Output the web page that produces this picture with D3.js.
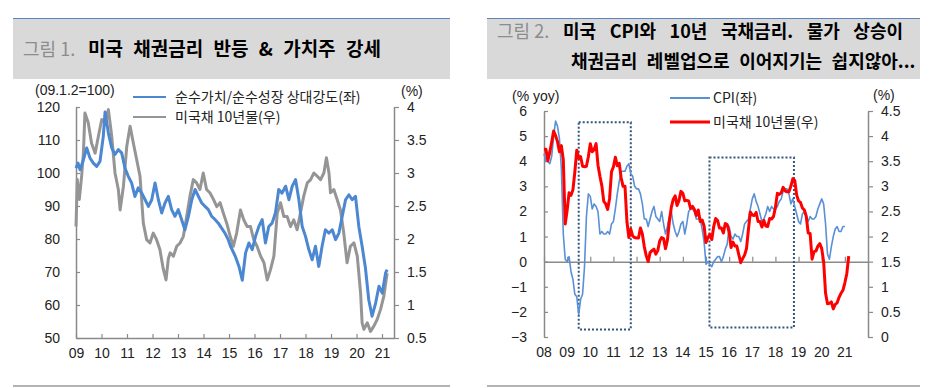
<!DOCTYPE html>
<html>
<head>
<meta charset="utf-8">
<script src="https://cdn.jsdelivr.net/npm/d3@7"></script>
<style>
  body { margin: 0; background: #fff; }
  svg text { font-family: "Liberation Sans", Arial, sans-serif; }
  .kr { font-family: "Noto Sans CJK KR", "Noto Sans", sans-serif; }
</style>
</head>
<body>
<div id="chart"></div>
<script>
// ---- data ----
// fig 1 : value/growth relative strength (left axis, 09.1.2=100), [year, value]
const relStrength = [
  [2009.00,101.5],[2009.08,103.0],[2009.16,101.0],[2009.29,104.0],[2009.42,107.6],[2009.55,104.5],[2009.68,103.0],
  [2009.81,102.0],[2009.94,103.5],[2010.07,111.1],[2010.14,118.5],[2010.27,112.1],[2010.40,107.6],
  [2010.53,105.6],[2010.66,107.1],[2010.79,106.1],[2010.92,101.5],[2011.05,99.0],[2011.18,97.0],
  [2011.31,92.9],[2011.44,95.5],[2011.58,93.9],[2011.71,91.9],[2011.84,89.9],[2011.97,91.9],
  [2012.10,97.0],[2012.23,91.9],[2012.36,87.9],[2012.49,90.9],[2012.62,92.9],[2012.75,88.9],
  [2012.88,86.9],[2013.01,88.9],[2013.14,85.9],[2013.27,82.8],[2013.41,86.9],[2013.54,91.9],
  [2013.67,95.0],[2013.80,92.9],[2013.93,90.9],[2014.06,89.9],[2014.19,88.9],[2014.32,86.9],
  [2014.45,85.9],[2014.58,84.8],[2014.71,83.3],[2014.84,81.8],[2014.97,79.8],[2015.06,77.8],
  [2015.25,74.7],[2015.39,71.7],[2015.52,67.5],[2015.65,75.8],[2015.78,78.8],[2015.91,76.8],
  [2016.04,80.8],[2016.17,83.8],[2016.30,85.9],[2016.43,78.8],[2016.56,83.8],[2016.69,84.8],
  [2016.82,87.9],[2016.95,95.0],[2017.08,93.9],[2017.22,96.0],[2017.35,91.9],[2017.48,96.0],
  [2017.61,98.0],[2017.74,91.9],[2017.87,83.8],[2018.00,80.8],[2018.13,76.8],[2018.26,73.7],
  [2018.39,77.8],[2018.52,71.7],[2018.65,77.8],[2018.78,82.8],[2018.92,81.8],[2019.05,82.8],
  [2019.18,79.8],[2019.31,81.8],[2019.44,86.9],[2019.57,91.9],[2019.70,93.4],[2019.83,91.9],
  [2019.96,92.9],[2020.09,83.8],[2020.22,77.8],[2020.35,71.2],[2020.48,61.6],[2020.61,56.6],
  [2020.75,60.6],[2020.88,65.7],[2021.01,63.6],[2021.14,69.7],[2021.20,70.7]
];
// fig 1 : UST 10y (right axis, %), [year, value]
const ust10Daily = [
  [2009.00,2.19],[2009.05,2.90],[2009.13,2.60],[2009.22,2.95],[2009.29,3.30],[2009.35,3.91],
  [2009.48,3.76],[2009.61,3.45],[2009.75,3.30],[2009.88,3.56],[2010.01,3.81],[2010.14,3.76],
  [2010.27,3.96],[2010.40,3.56],[2010.53,3.00],[2010.66,2.75],[2010.73,2.44],[2010.86,2.80],
  [2010.99,3.40],[2011.12,3.71],[2011.25,3.45],[2011.38,3.20],[2011.51,2.95],[2011.64,2.24],
  [2011.77,1.99],[2011.90,1.94],[2012.03,2.09],[2012.16,1.99],[2012.29,1.84],[2012.42,1.55],
  [2012.53,1.38],[2012.62,1.70],[2012.69,1.79],[2012.82,1.74],[2012.95,1.89],[2013.08,1.94],[2013.21,2.04],
  [2013.34,2.34],[2013.47,2.65],[2013.60,2.90],[2013.73,2.85],[2013.86,2.75],[2013.99,3.00],
  [2014.12,2.75],[2014.25,2.70],[2014.39,2.60],[2014.52,2.49],[2014.65,2.55],[2014.78,2.39],
  [2014.91,2.24],[2015.04,2.05],[2015.17,1.89],[2015.30,2.09],[2015.45,2.44],[2015.58,2.29],
  [2015.71,2.19],[2015.84,2.19],[2015.97,1.99],[2016.10,1.89],[2016.24,1.74],[2016.37,1.64],
  [2016.50,1.38],[2016.63,1.54],[2016.76,1.74],[2016.89,2.39],[2017.02,2.55],[2017.15,2.34],
  [2017.28,2.34],[2017.41,2.19],[2017.54,2.29],[2017.67,2.14],[2017.80,2.39],[2017.93,2.65],
  [2018.07,2.85],[2018.20,2.90],[2018.33,3.00],[2018.46,2.95],[2018.59,2.90],[2018.72,3.00],
  [2018.82,3.23],[2018.92,3.00],[2018.98,2.70],[2019.11,2.75],[2019.24,2.60],[2019.37,2.44],
  [2019.50,2.09],[2019.63,1.64],[2019.76,1.89],[2019.90,1.94],[2020.03,1.74],[2020.16,1.18],
  [2020.22,0.73],[2020.29,0.63],[2020.42,0.73],[2020.55,0.60],[2020.68,0.68],[2020.81,0.78],
  [2020.94,0.93],[2021.07,1.13],[2021.20,1.48]
];
const fig1Years = ["09","10","11","12","13","14","15","16","17","18","19","20","21"];
const fig1LeftTicks = [50,60,70,80,90,100,110,120];
const fig1RightTicks = [0.5,1,1.5,2,2.5,3,3.5,4];

// fig 2 : monthly from 2008.01
const cpiYoy = [
  4.3,4.0,4.0,3.9,4.2,5.0,5.6,5.4,4.9,3.7,1.1,0.1,
  0.0,0.2,-0.4,-0.7,-1.3,-1.4,-2.1,-1.5,-1.3,-0.2,1.8,2.7,
  2.6,2.1,2.3,2.2,2.0,1.1,1.2,1.1,1.1,1.2,1.1,1.5,
  1.6,2.1,2.7,3.2,3.6,3.6,3.6,3.8,3.9,3.5,3.4,3.0,
  2.9,2.9,2.7,2.3,1.7,1.7,1.4,1.7,2.0,2.2,1.8,1.7,
  1.6,2.0,1.5,1.1,1.4,1.8,2.0,1.5,1.2,1.0,1.2,1.5,
  1.6,1.1,1.5,2.0,2.1,2.1,2.0,1.7,1.7,1.7,1.3,0.8,
  -0.1,0.0,-0.1,-0.2,0.0,0.1,0.2,0.2,0.0,0.2,0.5,0.7,
  1.4,1.0,0.9,1.1,1.0,1.0,0.8,1.1,1.5,1.6,1.7,2.1,
  2.5,2.7,2.4,2.2,1.9,1.6,1.7,1.9,2.2,2.0,2.2,2.1,
  2.1,2.2,2.4,2.5,2.8,2.9,2.9,2.7,2.3,2.5,2.2,1.9,
  1.6,1.5,1.9,2.0,1.8,1.6,1.8,1.7,1.7,1.8,2.1,2.3,
  2.5,2.3,1.5,0.3,0.1,0.6,1.0,1.3,1.4,1.2,1.2,1.4,
  1.4
];
const ust10Monthly = [
  3.74,3.74,3.51,3.68,3.88,4.10,4.01,3.89,3.69,3.81,3.53,2.25,
  2.52,2.87,2.82,2.93,3.29,3.72,3.56,3.59,3.40,3.39,3.40,3.59,
  3.85,3.69,3.73,3.85,3.42,3.20,3.01,2.70,2.65,2.54,2.76,3.29,
  3.39,3.58,3.41,3.46,3.17,3.00,3.00,2.30,1.98,2.15,2.01,1.98,
  1.97,1.97,2.17,2.05,1.80,1.62,1.50,1.68,1.72,1.75,1.65,1.72,
  1.91,1.98,1.96,1.76,1.93,2.30,2.58,2.74,2.81,2.62,2.72,2.90,
  2.86,2.71,2.72,2.71,2.56,2.60,2.54,2.42,2.53,2.30,2.33,2.21,
  1.88,1.98,2.04,1.94,2.20,2.36,2.32,2.17,2.17,2.07,2.26,2.24,
  2.09,1.78,1.89,1.81,1.81,1.64,1.48,1.56,1.63,1.76,2.14,2.49,
  2.43,2.42,2.48,2.30,2.30,2.19,2.32,2.21,2.20,2.36,2.35,2.40,
  2.58,2.86,2.84,2.87,2.98,2.91,2.89,2.89,3.00,3.15,3.12,2.83,
  2.71,2.68,2.57,2.53,2.40,2.07,2.06,1.55,1.70,1.71,1.81,1.86,
  1.76,1.50,0.87,0.66,0.67,0.70,0.56,0.65,0.68,0.79,0.87,0.93,
  1.08,1.26,1.61
];
const fig2Years = ["08","09","10","11","12","13","14","15","16","17","18","19","20","21"];
const fig2LeftTicks = [-3,-2,-1,0,1,2,3,4,5,6];
const fig2RightTicks = [0,0.5,1,1.5,2,2.5,3,3.5,4,4.5];
// dotted boxes: [fromYear, toYear, top, bottom] on CPI axis
const boxes = [[2009.5, 2011.75, 5.55, -2.7], [2015.15, 2018.8, 4.15, -2.62]];

const W = 929, H = 388;
const svg = d3.select("#chart").append("svg")
  .attr("width", W).attr("height", H)
  .style("background", "#fff");

const axisGrey = "#8a8a8a", txt = "#222";

// ---- headers ----
function header(x0, x1) {
  svg.append("rect").attr("x", x0).attr("y", 18).attr("width", x1 - x0).attr("height", 61)
    .attr("fill", "#d9d9d9");
  svg.append("line").attr("x1", x0).attr("x2", x1).attr("y1", 18.5).attr("y2", 18.5)
    .attr("stroke", "#5b86c0").attr("stroke-width", 1);
  svg.append("line").attr("x1", x0).attr("x2", x1).attr("y1", 386).attr("y2", 386)
    .attr("stroke", "#9a9a9a").attr("stroke-width", 1.5);
}
header(13, 450);
header(487, 920);

svg.append("text").attr("class", "kr").attr("x", 23).attr("y", 56)
  .attr("font-size", 18).attr("fill", "#8c8c8c").text("그림 1.");
svg.append("text").attr("class", "kr").attr("x", 88).attr("y", 56)
  .attr("font-size", 19).attr("font-weight", "bold").attr("fill", "#000")
  .attr("word-spacing", 6)
  .text("미국 채권금리 반등 & 가치주 강세");

svg.append("text").attr("class", "kr").attr("x", 497).attr("y", 38)
  .attr("font-size", 18).attr("fill", "#8c8c8c").text("그림 2.");
svg.append("text").attr("class", "kr").attr("x", 563).attr("y", 38)
  .attr("font-size", 18).attr("font-weight", "bold").attr("fill", "#000")
  .attr("word-spacing", 9.5)
  .text("미국 CPI와 10년 국채금리. 물가 상승이");
svg.append("text").attr("class", "kr").attr("x", 571).attr("y", 68)
  .attr("font-size", 18).attr("font-weight", "bold").attr("fill", "#000")
  .attr("word-spacing", 5.5)
  .text("채권금리 레벨업으로 이어지기는 쉽지않아...");

function styleAxis(g) {
  g.select(".domain").attr("stroke", axisGrey).attr("stroke-width", 1.5);
  g.selectAll(".tick line").attr("stroke", axisGrey).attr("stroke-width", 1.2);
  g.selectAll(".tick text").attr("fill", txt).attr("font-size", 14);
}

// ---- fig 1 ----
const x1 = d3.scaleLinear().domain([2009, 2021.47]).range([76, 394]);
const y1L = d3.scaleLinear().domain([50, 120]).range([338, 107]);
const y1R = d3.scaleLinear().domain([0.5, 4]).range([338, 107]);

svg.append("g").attr("transform", "translate(76,0)")
  .call(d3.axisLeft(y1L).tickValues(fig1LeftTicks).tickSizeInner(-4).tickSizeOuter(0).tickPadding(16))
  .call(styleAxis);
svg.append("g").attr("transform", "translate(394,0)")
  .call(d3.axisRight(y1R).tickValues(fig1RightTicks).tickSizeInner(5).tickSizeOuter(0).tickPadding(8)
    .tickFormat(d3.format("")))
  .call(styleAxis);
svg.append("g").attr("transform", "translate(0,338)")
  .call(d3.axisBottom(x1).tickValues(d3.range(2009, 2022)).tickSizeInner(-4).tickSizeOuter(0).tickPadding(10)
    .tickFormat((d, i) => fig1Years[i]))
  .call(styleAxis);

const line1L = d3.line().x(d => x1(d[0])).y(d => y1L(d[1]));
const line1R = d3.line().x(d => x1(d[0])).y(d => y1R(d[1]));
svg.append("path").datum(ust10Daily).attr("d", line1R)
  .attr("fill", "none").attr("stroke", "#959595").attr("stroke-width", 3).attr("stroke-linejoin", "round");
svg.append("path").datum(relStrength).attr("d", line1L)
  .attr("fill", "none").attr("stroke", "#4c87d2").attr("stroke-width", 3).attr("stroke-linejoin", "round");

svg.append("text").attr("x", 35).attr("y", 95).attr("font-size", 14).attr("fill", txt).text("(09.1.2=100)");
svg.append("text").attr("x", 401).attr("y", 96).attr("font-size", 14).attr("fill", txt).text("(%)");
svg.append("line").attr("x1", 133).attr("x2", 166).attr("y1", 97).attr("y2", 97)
  .attr("stroke", "#4c87d2").attr("stroke-width", 2);
svg.append("text").attr("class", "kr").attr("x", 175).attr("y", 102).attr("font-size", 14).attr("fill", txt)
  .text("순수가치/순수성장 상대강도(좌)");
svg.append("line").attr("x1", 133).attr("x2", 166).attr("y1", 117).attr("y2", 117)
  .attr("stroke", "#959595").attr("stroke-width", 2);
svg.append("text").attr("class", "kr").attr("x", 175).attr("y", 122).attr("font-size", 14).attr("fill", txt)
  .text("미국채 10년물(우)");

// ---- fig 2 ----
const x2 = d3.scaleLinear().domain([2008, 2022]).range([544, 868]);
const y2L = d3.scaleLinear().domain([-3, 6]).range([337, 111]);
const y2R = d3.scaleLinear().domain([0, 4.5]).range([337, 111]);

svg.append("g").attr("transform", "translate(544,0)")
  .call(d3.axisLeft(y2L).tickValues(fig2LeftTicks).tickSizeInner(-4).tickSizeOuter(0).tickPadding(17)
    .tickFormat(d => d < 0 ? "\u2212" + Math.abs(d) : d))
  .call(styleAxis);
svg.append("g").attr("transform", "translate(868,0)")
  .call(d3.axisRight(y2R).tickValues(fig2RightTicks).tickSizeInner(5).tickSizeOuter(0).tickPadding(8)
    .tickFormat(d3.format("")))
  .call(styleAxis);
// zero line with year ticks
svg.append("g").attr("transform", `translate(0,${y2L(0)})`)
  .call(d3.axisBottom(x2).tickValues(d3.range(2008, 2022)).tickSizeInner(-5).tickSizeOuter(0)
    .tickFormat(""))
  .call(styleAxis);
svg.append("g").selectAll("text").data(fig2Years).join("text")
  .attr("x", (d, i) => x2(2008 + i)).attr("y", 357)
  .attr("text-anchor", "middle").attr("font-size", 14).attr("fill", txt).text(d => d);

// dotted boxes
svg.append("g").selectAll("rect").data(boxes).join("rect")
  .attr("x", d => x2(d[0])).attr("y", d => y2L(d[2]))
  .attr("width", d => x2(d[1]) - x2(d[0])).attr("height", d => y2L(d[3]) - y2L(d[2]))
  .attr("fill", "none").attr("stroke", "#34547f").attr("stroke-width", 2)
  .attr("stroke-dasharray", "2,2");

const line2L = d3.line().x((d, i) => x2(2008 + i / 12)).y(d => y2L(d));
const line2R = d3.line().x((d, i) => x2(2008 + i / 12)).y(d => y2R(d));
svg.append("path").datum(cpiYoy).attr("d", line2L)
  .attr("fill", "none").attr("stroke", "#5a90d6").attr("stroke-width", 1.6).attr("stroke-linejoin", "round");
svg.append("path").datum(ust10Monthly).attr("d", line2R)
  .attr("fill", "none").attr("stroke", "#ff0000").attr("stroke-width", 3).attr("stroke-linejoin", "round");

svg.append("text").attr("x", 512).attr("y", 101).attr("font-size", 14).attr("fill", txt).text("(% yoy)");
svg.append("text").attr("x", 873).attr("y", 100).attr("font-size", 14).attr("fill", txt).text("(%)");
svg.append("line").attr("x1", 670).attr("x2", 710).attr("y1", 98).attr("y2", 98)
  .attr("stroke", "#5a90d6").attr("stroke-width", 2);
svg.append("text").attr("class", "kr").attr("x", 713).attr("y", 103).attr("font-size", 14).attr("fill", txt)
  .text("CPI(좌)");
svg.append("line").attr("x1", 670).attr("x2", 710).attr("y1", 122).attr("y2", 122)
  .attr("stroke", "#ff0000").attr("stroke-width", 3);
svg.append("text").attr("class", "kr").attr("x", 713).attr("y", 127).attr("font-size", 14).attr("fill", txt)
  .text("미국채 10년물(우)");
</script>
</body>
</html>
